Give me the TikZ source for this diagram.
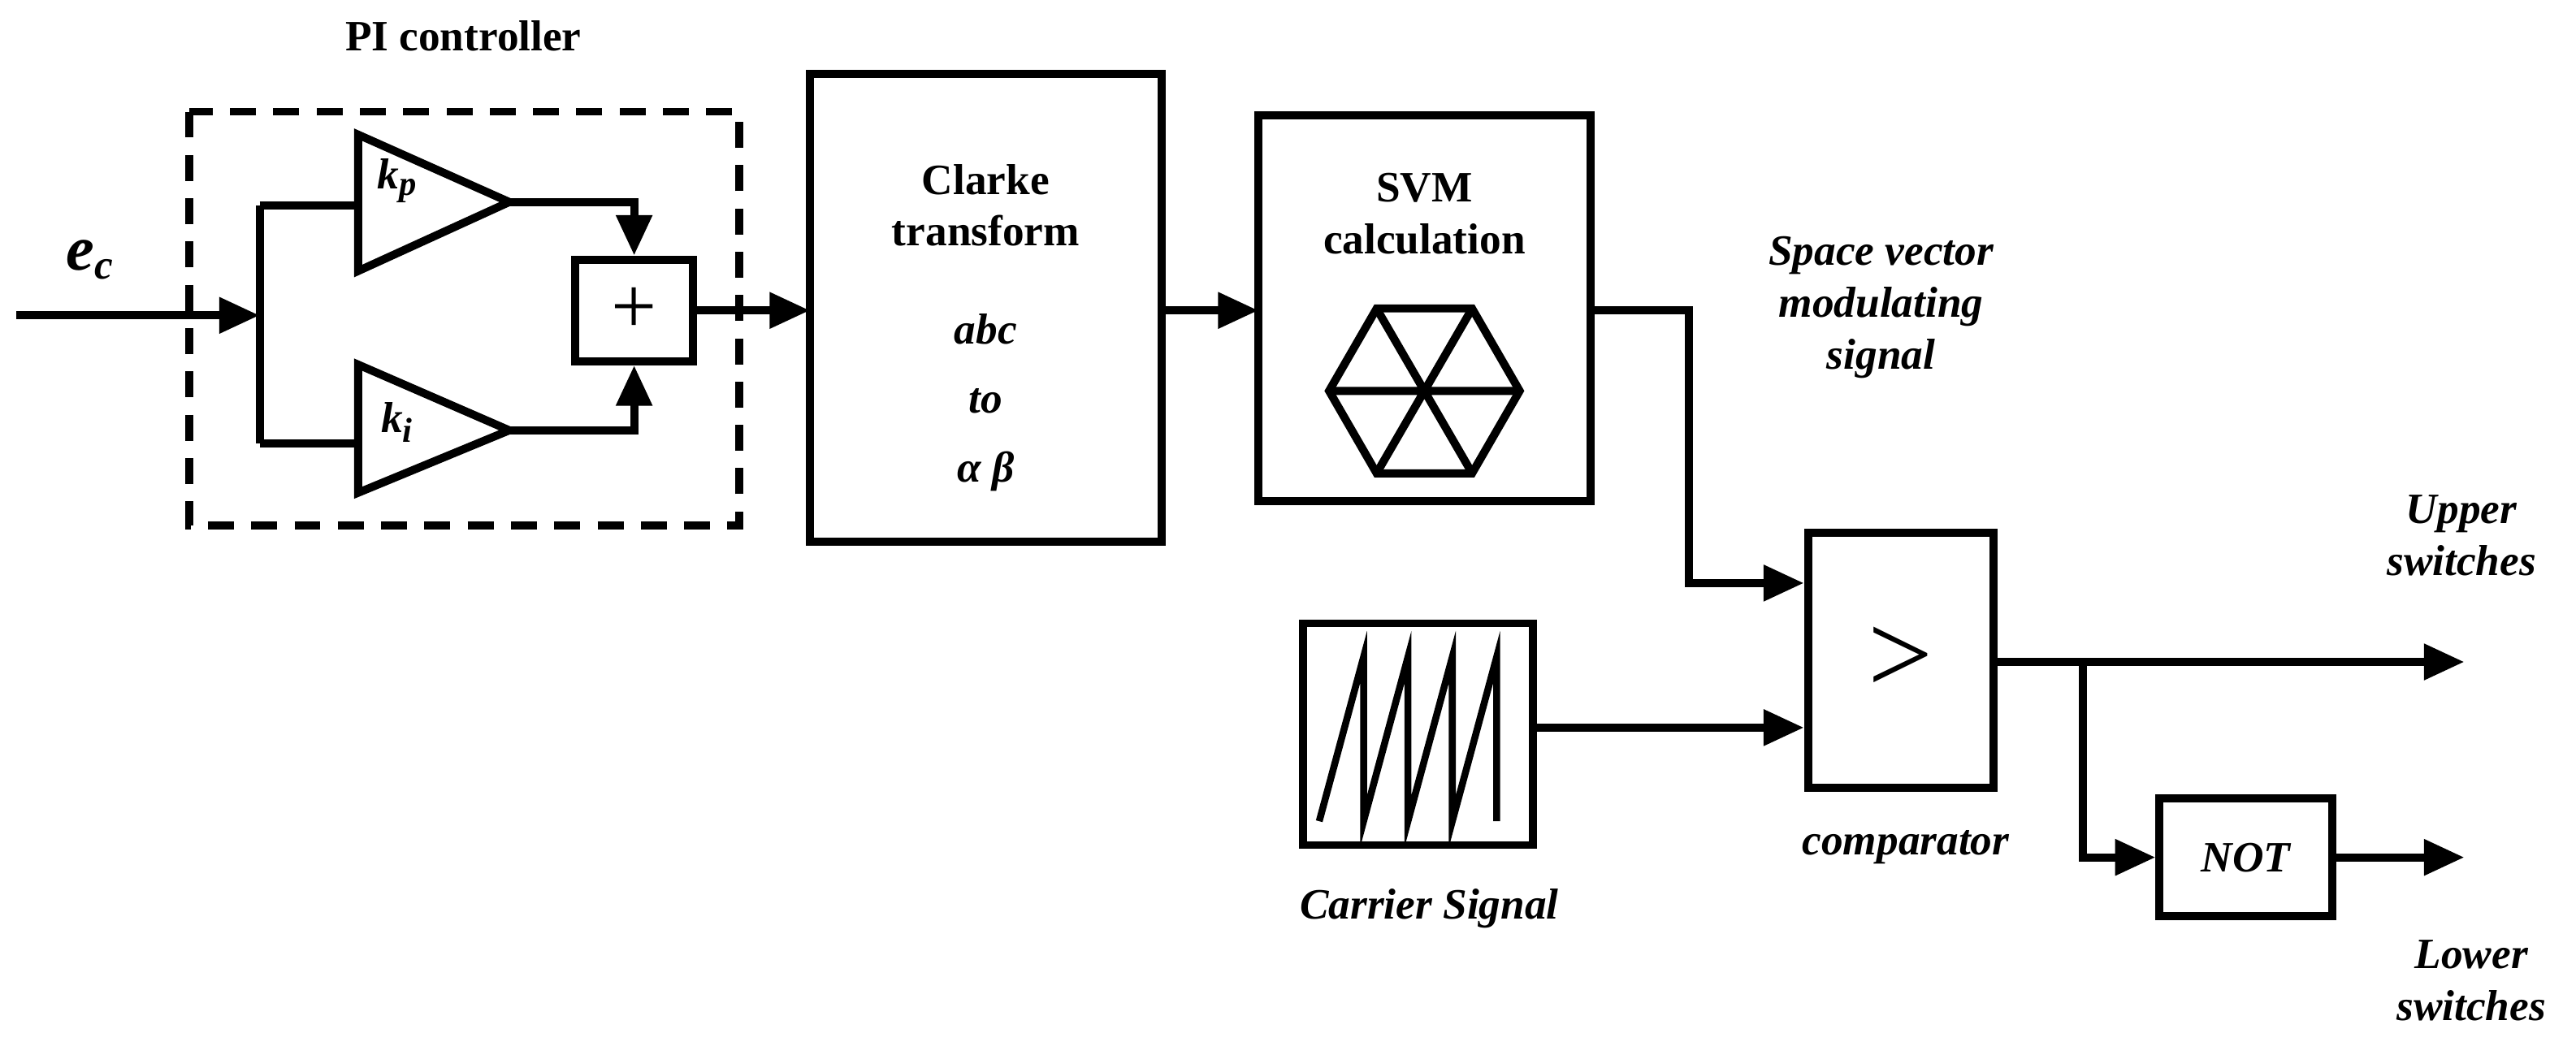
\documentclass[tikz,border=0pt]{standalone}
\usepackage{fontspec}
\setmainfont{Liberation Serif}
\usetikzlibrary{arrows.meta}
\begin{document}
\begin{tikzpicture}[x=0.02cm,y=-0.02cm,
  every path/.style={line width=2.8pt},
  blk/.style={draw,line width=2.8pt,inner sep=0},
  arr/.style={-{Triangle[length=14pt,width=12pt]}},
  lab/.style={font=\fontsize{15}{18}\selectfont\bfseries\itshape,align=center},
  tb/.style={font=\fontsize{15}{18}\selectfont\bfseries,align=center}]
\useasboundingbox (0,0) rectangle (1568,642);
\draw[dashed,dash pattern=on 9pt off 6pt] (115,68) rectangle (450,320);
\node[tb] (pit) at (282,22) {PI controller};
\node[lab,font=\fontsize{22}{24}\selectfont\bfseries\itshape] (ec) at (55,158) {e\textsubscript{\Large c}};
\coordinate (in) at (10,192);
\coordinate (br) at (158,192);
\draw[arr] (in) -- (br);
\draw (158,125) -- (158,270);
\draw (218,82) -- (310,123) -- (218,165) -- cycle;
\draw (218,222) -- (310,262) -- (218,300) -- cycle;
\node[lab] (kp) at (242,110) {k\textsubscript{\large p}};
\node[lab] (ki) at (242,257) {k\textsubscript{\large i}};
\draw (158,125) -- (218,125);
\draw (158,270) -- (218,270);
\node[blk,minimum width=72*0.02cm,minimum height=62*0.02cm,font=\fontsize{28}{28}\selectfont] (sum) at (386,189) {+};
\draw[arr] (310,123) -- (386,123) -- (sum.north);
\draw[arr] (310,262) -- (386,262) -- (sum.south);
\draw (493,45) rectangle (707,330);
\node[tb] at (600,125) {Clarke\\transform};
\node[lab] at (600,245) {abc\\[6pt]to\\[6pt]α β};
\coordinate (cl) at (493,189);
\draw[arr] (sum.east) -- (cl);
\draw (766,70) rectangle (968,305);
\node[tb] at (867,130) {SVM\\calculation};
\draw (867,238) ++(0:58) -- ++(120:58) -- ++(180:58) -- ++(240:58) -- ++(300:58) -- ++(0:58) -- cycle;
\draw (809,238) -- (925,238) (838,188) -- (896,288) (896,188) -- (838,288);
\draw[arr] (707,189) -- (766,189);
\node[lab] at (1145,187) {Space vector\\modulating\\signal};
\node[blk,minimum width=113*0.02cm,minimum height=155*0.02cm,font=\fontsize{40}{40}\selectfont] (cmp) at (1157,402) {>};
\draw[arr] (968,189) -- (1028,189) -- (1028,355) -- (cmp.west |- 0,355);
\node[blk,minimum width=140*0.02cm,minimum height=135*0.02cm] (car) at (863,447) {};
\draw[line width=2.4pt] (803,500) -- (830,400) -- (830,500) -- (857,400) -- (857,500) -- (884,400) -- (884,500) -- (911,400) -- (911,500);
\node[lab] at (870,553) {Carrier Signal};
\draw[arr] (car.east |- 0,443) -- (cmp.west |- 0,443);
\node[lab] at (1160,516) {comparator};
\coordinate (up) at (1500,403);
\draw[arr] (cmp.east |- 0,403) -- (up);
\node[lab,anchor=east] at (1552,326) {Upper\\switches};
\node[blk,minimum width=105*0.02cm,minimum height=72*0.02cm,font=\fontsize{15}{18}\selectfont\bfseries\itshape] (not) at (1367,522) {NOT};
\draw[arr] (1268,403) -- (1268,522) -- (not.west);
\coordinate (lo) at (1500,522);
\draw[arr] (not.east) -- (lo);
\node[lab,anchor=east] at (1558,597) {Lower\\switches};
\end{tikzpicture}
\end{document}
